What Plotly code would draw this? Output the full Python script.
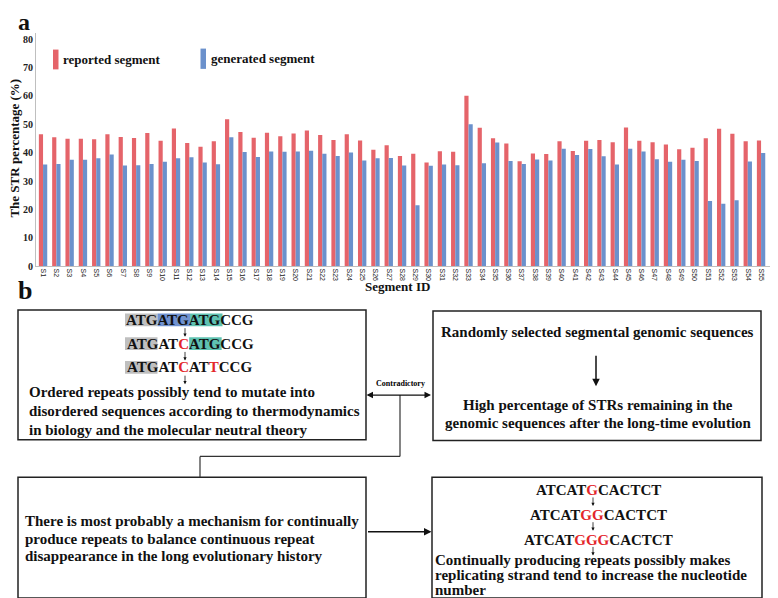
import plotly.graph_objects as go

# ---------------- data (panel a) ----------------
segment_ids = ["S1", "S2", "S3", "S4", "S5", "S6", "S7", "S8", "S9", "S10",
               "S11", "S12", "S13", "S14", "S15", "S16", "S17", "S18", "S19", "S20",
               "S21", "S22", "S23", "S24", "S25", "S26", "S27", "S28", "S29", "S30",
               "S31", "S32", "S33", "S34", "S35", "S36", "S37", "S38", "S39", "S40",
               "S41", "S42", "S43", "S44", "S45", "S46", "S47", "S48", "S49", "S50",
               "S51", "S52", "S53", "S54", "S55"]
reported = [46.5, 45.4, 44.9, 44.9, 44.7, 46.5, 45.5, 45.2, 46.9, 44.2,
            48.5, 43.4, 42.1, 44.0, 51.8, 47.3, 45.3, 47.0, 45.8, 46.8,
            47.8, 46.2, 44.5, 46.5, 44.3, 41.0, 42.6, 38.8, 39.6, 36.5,
            40.5, 40.3, 60.1, 48.8, 45.1, 43.2, 37.0, 39.7, 39.5, 44.0,
            40.6, 44.2, 44.5, 43.7, 48.9, 44.2, 43.7, 42.9, 41.2, 41.7,
            45.1, 48.4, 46.7, 44.0, 44.3]
generated = [35.8, 36.0, 37.5, 37.5, 38.0, 39.4, 35.5, 35.6, 36.0, 36.8,
             38.0, 38.4, 36.5, 35.9, 45.4, 40.2, 38.5, 40.4, 40.3, 40.4,
             40.7, 39.6, 38.8, 40.1, 37.2, 38.0, 38.1, 35.5, 21.5, 35.4,
             35.8, 35.6, 50.0, 36.3, 43.6, 37.1, 36.0, 37.6, 37.2, 41.4,
             39.2, 41.3, 38.7, 35.8, 41.4, 40.4, 37.7, 36.8, 37.5, 37.1,
             23.0, 22.0, 23.2, 36.9, 39.9]
y_ticks = [0, 10, 20, 30, 40, 50, 60, 70, 80]
series_names = ["reported segment", "generated segment"]

# ---------------- text (panel b) ----------------
box1_lines = ["Ordered repeats possibly tend to mutate into",
              "disordered sequences according to thermodynamics",
              "in biology and the molecular neutral theory"]
box2_top = "Randomly selected segmental genomic sequences"
box2_lines = ["High percentage of STRs remaining in the",
              "genomic sequences after the long-time evolution"]
box3_lines = ["There is most probably a mechanism for continually",
              "produce repeats to balance continuous repeat",
              "disappearance in the long evolutionary history"]
box4_lines = ["Continually producing repeats possibly makes",
              "replicating strand tend to increase the nucleotide",
              "number"]
contradictory_label = "Contradictory"

W, H = 778, 598
RED_BAR = "#E5646A"
BLUE_BAR = "#6B91CC"
RED_TXT = "#E3262B"
GRAY_HL = "#BFBFBF"
BLUE_HL = "#7092D0"
TEAL_HL = "#5FC2B1"
INK = "#111111"
SERIF = "Liberation Serif, Times New Roman, serif"


def px(x):
    return x / W


def py(y):
    return 1 - y / H


fig = go.Figure()
fig.add_trace(go.Bar(x=segment_ids, y=reported, name=series_names[0],
                     marker=dict(color=RED_BAR, line=dict(width=0))))
fig.add_trace(go.Bar(x=segment_ids, y=generated, name=series_names[1],
                     marker=dict(color=BLUE_BAR, line=dict(width=0))))

shapes = []
ann = []


def text(x, y, s, size=15, anchor="center", color=INK, angle=0, bold=True, family=SERIF):
    ann.append(dict(x=px(x), y=py(y), xref="paper", yref="paper", text=s,
                    showarrow=False, xanchor=anchor, yanchor="middle",
                    textangle=angle,
                    font=dict(family=family, size=size, color=color,
                              weight="bold" if bold else "normal")))


def rect(x0, y0, x1, y1, fill=None, line=True):
    d = dict(type="rect", xref="paper", yref="paper",
             x0=px(x0), x1=px(x1), y0=py(y1), y1=py(y0), layer="below")
    if fill:
        d["fillcolor"] = fill
        d["line"] = dict(width=0)
    else:
        d["line"] = dict(color="#222222", width=1.5)
        d["fillcolor"] = "rgba(0,0,0,0)"
    shapes.append(d)


def seg_line(x0, y0, x1, y1, w=1.2):
    shapes.append(dict(type="line", xref="paper", yref="paper",
                       x0=px(x0), x1=px(x1), y0=py(y0), y1=py(y1),
                       line=dict(color="#333333", width=w)))


def arrow(hx, hy, tx, ty, w=1.5, size=1.0, side="end"):
    ann.append(dict(x=px(hx), y=py(hy), xref="paper", yref="paper",
                    ax=tx - hx, ay=ty - hy, axref="pixel", ayref="pixel",
                    text="", showarrow=True, arrowhead=2, arrowsize=size,
                    arrowwidth=w, arrowcolor="#111111", arrowside=side))


# Times Bold advance widths (em) for sequence letters
CW = {"A": 0.722, "T": 0.667, "G": 0.778, "C": 0.722}


def sequence(segments, y, size=15, left=None, center=None):
    widths = [sum(CW[c] for c in s) * size for s, _, _ in segments]
    total = sum(widths)
    if left is None:
        left = center - total / 2
    xc = left + total / 2
    x = left
    html = ""
    for (s, col, bg), w in zip(segments, widths):
        if bg:
            rect(x, y - 6.5, x + w, y + 6.5, fill=bg)
        html += f"<span style='color:{col}'>{s}</span>" if col else s
        x += w
    text(xc, y, html, size=size)


# ---------------- panel a decorations ----------------
text(8, 14, "a", size=24, anchor="left")
text(7, 142, "The STR percentage (%)", size=13, angle=-90)
text(390, 281, "Segment ID", size=13)
rect(45, 42, 50.5, 62, fill=RED_BAR)
text(53, 52, series_names[0], size=13, anchor="left")
rect(192.5, 41, 198, 61.5, fill=BLUE_BAR)
text(201, 51, series_names[1], size=13, anchor="left")

# ---------------- panel b ----------------
text(8, 285, "b", size=26, anchor="left")

# boxes
rect(10, 305, 358, 436)
rect(425, 306, 753, 437)
rect(10, 474, 358, 596)
rect(424, 474, 754, 596)

# box 1 sequences
sequence([("ATG", None, GRAY_HL), ("ATG", None, BLUE_HL), ("ATG", None, TEAL_HL),
          ("CCG", None, None)], 315, left=117)
sequence([("ATG", None, GRAY_HL), ("AT", None, None), ("C", RED_TXT, None),
          ("ATG", None, TEAL_HL), ("CCG", None, None)], 339, left=117)
sequence([("ATG", None, GRAY_HL), ("AT", None, None), ("C", RED_TXT, None),
          ("AT", None, None), ("T", RED_TXT, None), ("CCG", None, None)], 363, left=117)
for y0 in (322, 346, 370):
    arrow(177, y0 + 10, 177, y0, w=0.8, size=0.8)
for i, s in enumerate(box1_lines):
    text(19, 388 + 19 * i, s, anchor="left")

# box 2
text(589, 327, box2_top)
arrow(588, 382, 588, 350, w=1.5, size=1.0)
for i, s in enumerate(box2_lines):
    text(590, 401 + 18 * i, s)

# box 3
for i, s in enumerate(box3_lines):
    text(15, 518 + 18 * i, s, anchor="left")

# box 4 sequences
sequence([("ATCAT", None, None), ("G", RED_TXT, None), ("CACTCT", None, None)], 487, center=590)
sequence([("ATCAT", None, None), ("GG", RED_TXT, None), ("CACTCT", None, None)], 512, center=590)
sequence([("ATCAT", None, None), ("GGG", RED_TXT, None), ("CACTCT", None, None)], 537, center=590)
for y0 in (493, 518, 543):
    arrow(585, y0 + 10, 585, y0, w=0.8, size=0.8)
for i, s in enumerate(box4_lines):
    text(425, 558 + 15 * i, s, anchor="left")

# connectors
arrow(358.5, 391, 424.5, 391, w=1.3, size=1.0, side="end+start")
text(392, 379, contradictory_label, size=8, color="#000000")
seg_line(392, 391, 392, 453)
seg_line(392, 453, 192, 453)
seg_line(192, 453, 192, 474)
arrow(423.5, 529, 358.5, 529, w=1.5, size=1.0)

fig.update_layout(
    width=W, height=H, autosize=False,
    margin=dict(l=0, r=0, t=0, b=0),
    paper_bgcolor="white", plot_bgcolor="white",
    showlegend=False,
    barmode="group", bargap=0.37, bargroupgap=0,
    shapes=shapes, annotations=ann,
    xaxis=dict(domain=[px(28), px(777)], type="category",
               range=[-0.53, 55.8], showline=True, linecolor="#BFBFBF",
               linewidth=1, ticks="", tickangle=90, showgrid=False,
               tickfont=dict(family="Liberation Sans, Arial, sans-serif", size=7, color="#222222")),
    yaxis=dict(domain=[py(260.7), py(25)], range=[0, 82.3],
               tickvals=y_ticks, showline=True, linecolor="#BFBFBF",
               linewidth=1, ticks="", showgrid=False, zeroline=False,
               tickfont=dict(family=SERIF, size=10, color="#222222", weight="bold")),
)

fig.write_html("out.html")
